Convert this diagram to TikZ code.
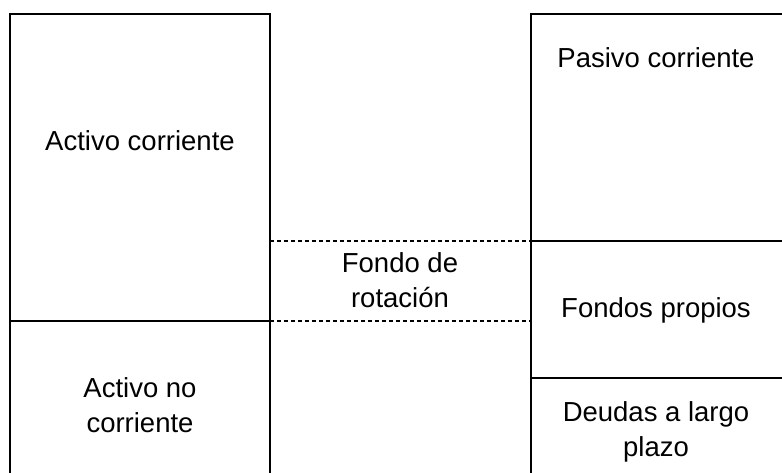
\documentclass[tikz,border=0pt]{standalone}
\usepackage{fontspec}
\setmainfont{Liberation Sans}
\usetikzlibrary{positioning}

\tikzset{
    etiqueta/.style={align=center, inner sep=0pt, font=\fontsize{27.5}{35}\selectfont},
    borde/.style={line width=1.2pt, black},
    rotacion/.style={line width=1.2pt, dash pattern=on 4pt off 3pt}
}

\begin{document}
\begin{tikzpicture}[x=1pt, y=-1pt]
        \useasboundingbox (0,0) rectangle (782,473);
        \clip (0,0) rectangle (782,473);
        % esquinas
        \coordinate (ai) at (270,241);
        \coordinate (ad) at (531,241);
        \coordinate (bi) at (270,321);
        \coordinate (bd) at (531,321);
        % activo
        \draw [borde] (10,490) -- (10,14) -- (270,14) -- (270,490);
        \draw [borde] (10,321) -- (bi);
        % pasivo
        \draw [borde] (531,490) -- (531,14) -- (800,14);
        \draw [borde] (ad) -- (800,241);
        \draw [borde] (531,378) -- (800,378);
        % fondo de rotacion
        \draw [rotacion] (ai) -- (ad);
        \draw [rotacion] (bi) -- (bd);
        % textos
        \node [etiqueta] (ac) at (140,141) {Activo corriente};
        \node [etiqueta] (anc) at (140,405) {Activo no\\corriente};
        \node [etiqueta] (fr) at (400,280) {Fondo de\\rotación};
        \node [etiqueta] (pc) at (656,58) {Pasivo corriente};
        \node [etiqueta] (fp) at (656,310) {Fondos propios};
        \node [etiqueta] (dlp) at (656,432) {Deudas a largo\\plazo};
    \end{tikzpicture}
\end{document}
